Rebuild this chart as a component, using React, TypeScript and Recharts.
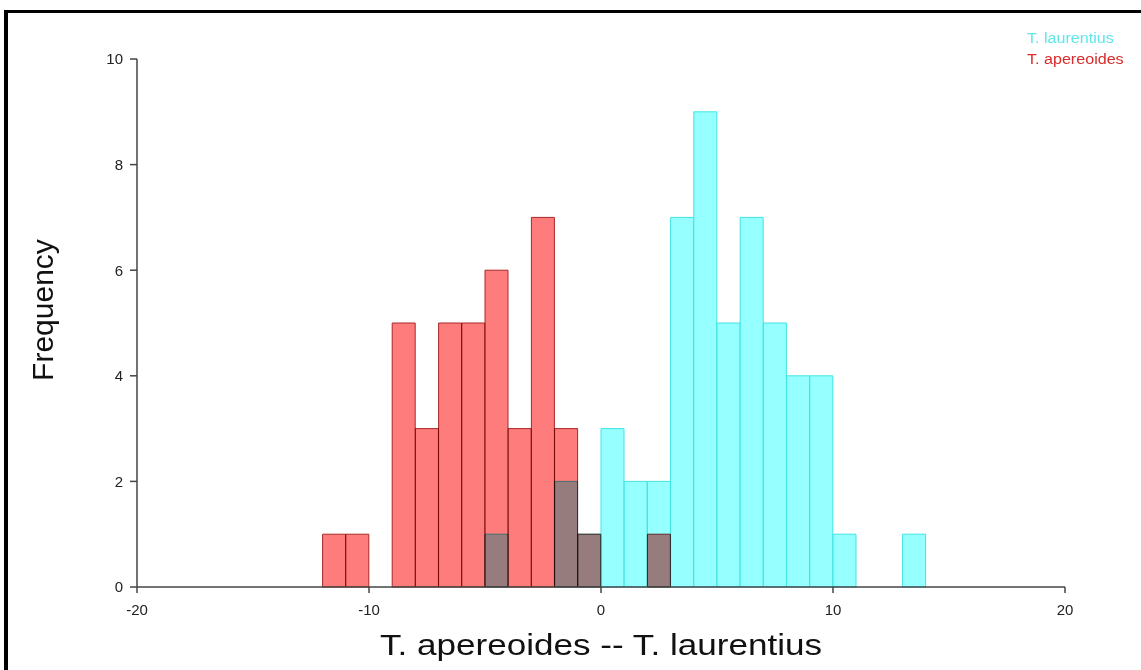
import React from 'react';
import { ComposedChart, Bar, XAxis, YAxis, Legend } from 'recharts';

// histogram bins are 1 unit wide, from -20 up to 20
const binStarts: number[] = [];
for (let b = -20; b < 20; b++) binStarts.push(b);

const apereoidesBins = [-12, -11, -9, -8, -7, -6, -5, -4, -3, -2, -1, 2];
const apereoidesCounts = [1, 1, 5, 3, 5, 5, 6, 3, 7, 3, 1, 1];

const laurentiusBins = [-5, -2, -1, 0, 1, 2, 3, 4, 5, 6, 7, 8, 9, 10, 13];
const laurentiusCounts = [1, 2, 1, 3, 2, 2, 7, 9, 5, 7, 5, 4, 4, 1, 1];

const xTicks = [-20, -10, 0, 10, 20];
const yTicks = [0, 2, 4, 6, 8, 10];

const countAt = (bins: number[], counts: number[], b: number) => {
  const i = bins.indexOf(b);
  return i < 0 ? 0 : counts[i];
};

const data = binStarts.map(b => ({
  bin: b,
  apereoides: countAt(apereoidesBins, apereoidesCounts, b),
  laurentius: countAt(laurentiusBins, laurentiusCounts, b),
}));

const FONT = '"Liberation Sans", Arial, sans-serif';

const XTitle = (props: any) => {
  const { x, y, width } = props.viewBox;
  return (
    <text
      x={x + width / 2}
      y={y + 68}
      textAnchor="middle"
      fontSize={30}
      fontFamily={FONT}
      fill="#111"
      textLength={442}
      lengthAdjust="spacingAndGlyphs"
    >
      T. apereoides -- T. laurentius
    </text>
  );
};

const YTitle = () => (
  <text
    x={53}
    y={310}
    transform="rotate(-90 53 310)"
    textAnchor="middle"
    fontSize={30}
    fontFamily={FONT}
    fill="#111"
  >
    Frequency
  </text>
);

const renderLegend = () => (
  <div style={{ fontFamily: FONT, fontSize: 14, lineHeight: '21px', transform: 'scaleX(1.15)', transformOrigin: 'left top' }}>
    <div style={{ color: '#5ee6ea' }}>T. laurentius</div>
    <div style={{ color: '#d92b2b' }}>T. apereoides</div>
  </div>
);

export default function App() {
  return (
    <div style={{ position: 'absolute', left: 0, top: 0, width: 1141, height: 670, overflow: 'hidden', background: '#fff' }}>
      <style>{`.multiply path { mix-blend-mode: multiply; }`}</style>
      <div
        style={{
          position: 'absolute',
          left: 4,
          top: 10,
          width: 1160,
          height: 700,
          borderLeft: '4px solid #000',
          borderTop: '3px solid #000',
        }}
      />
      <div style={{ position: 'absolute', left: 0, top: 0 }}>
        <ComposedChart
          width={1141}
          height={670}
          data={data}
          margin={{ top: 59, right: 76, left: 77, bottom: 43 }}
          barCategoryGap={0}
          barGap={0}
        >
          <XAxis xAxisId="l" dataKey="bin" orientation="top" height={0} hide />
          <XAxis xAxisId="a" dataKey="bin" orientation="top" height={0} hide />
          <XAxis
            xAxisId="num"
            dataKey="bin"
            type="number"
            domain={[-20, 20]}
            ticks={xTicks}
            allowDataOverflow
            height={40}
            tickSize={6}
            tickMargin={11}
            stroke="#444"
            strokeWidth={1.5}
            tick={{ fill: '#222', fontSize: 15, fontFamily: FONT }}
            label={{ content: XTitle }}
          />
          <YAxis
            type="number"
            domain={[0, 10]}
            ticks={yTicks}
            width={60}
            tickSize={7}
            tickMargin={7}
            stroke="#444"
            strokeWidth={1.5}
            tick={{ fill: '#222', fontSize: 15, fontFamily: FONT }}
            label={{ content: YTitle }}
          />
          <Legend
            layout="vertical"
            align="center"
            verticalAlign="middle"
            content={renderLegend}
            wrapperStyle={{ left: 1027, top: 28, width: 120 }}
          />
          <Bar
            xAxisId="l"
            dataKey="laurentius"
            fill="#96ffff"
            stroke="#3fe4e4"
            strokeWidth={1}
            isAnimationActive={false}
          />
          <Bar
            xAxisId="a"
            dataKey="apereoides"
            className="multiply"
            fill="#ff7c7c"
            stroke="#a82828"
            strokeWidth={1}
            isAnimationActive={false}
          />
        </ComposedChart>
      </div>
    </div>
  );
}
